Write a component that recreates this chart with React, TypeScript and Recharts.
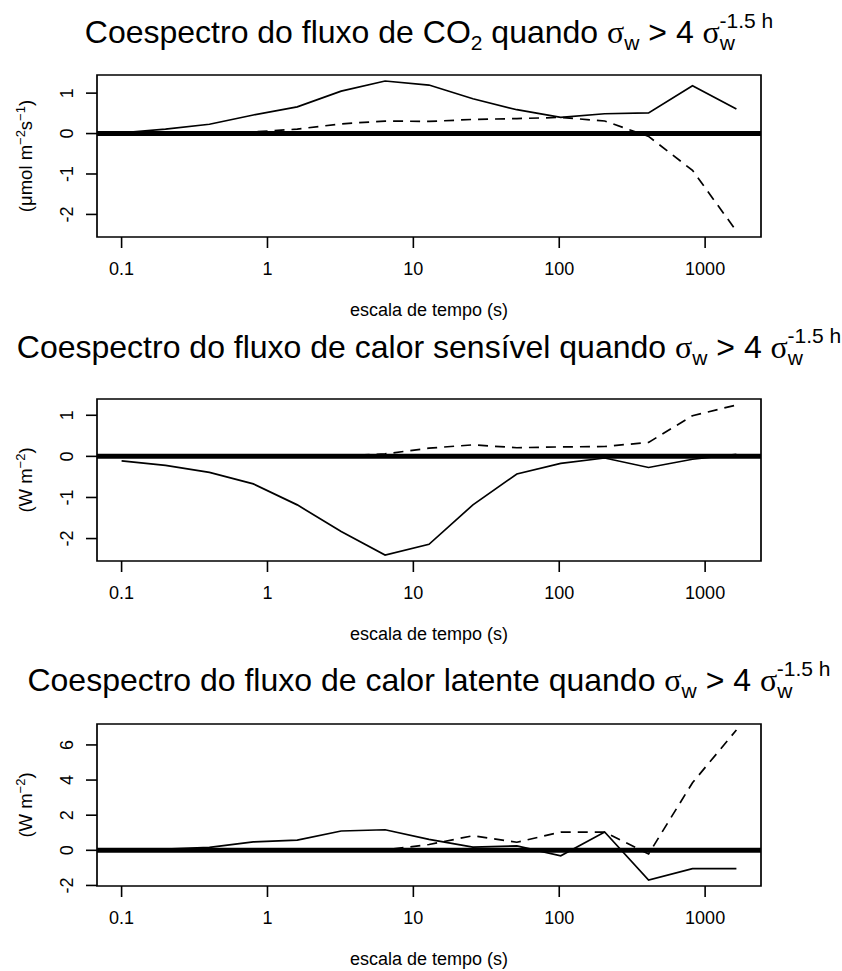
import React from 'react';
import { LineChart, Line, XAxis, YAxis, ReferenceLine, ReferenceArea, Label } from 'recharts';

// time scales (s)
const TIME = [0.1, 0.2, 0.4, 0.8, 1.6, 3.2, 6.4, 12.8, 25.6, 51.2, 102.4, 204.8, 409.6, 819.2, 1638.4];
const X_TICKS = [0.1, 1, 10, 100, 1000];

// CO2 flux cospectrum
const CO2_SOLID = [0.02, 0.11, 0.23, 0.46, 0.66, 1.05, 1.30, 1.20, 0.86, 0.59, 0.40, 0.49, 0.51, 1.18, 0.61];
const CO2_DASHED = [0.0, 0.01, 0.02, 0.04, 0.11, 0.24, 0.31, 0.30, 0.35, 0.37, 0.40, 0.31, -0.07, -0.91, -2.41];
const CO2_Y_TICKS = [-2, -1, 0, 1];

// sensible heat flux cospectrum
const SENS_SOLID = [-0.11, -0.22, -0.39, -0.67, -1.18, -1.83, -2.40, -2.14, -1.18, -0.43, -0.17, -0.04, -0.27, -0.07, 0.05];
const SENS_DASHED = [0.0, 0.0, 0.0, 0.0, 0.01, 0.01, 0.06, 0.20, 0.28, 0.21, 0.23, 0.24, 0.34, 0.99, 1.25];
const SENS_Y_TICKS = [-2, -1, 0, 1];

// latent heat flux cospectrum
const LAT_SOLID = [0.05, 0.07, 0.17, 0.48, 0.58, 1.10, 1.17, 0.62, 0.18, 0.25, -0.31, 1.04, -1.69, -1.04, -1.04];
const LAT_DASHED = [0.0, 0.0, 0.0, 0.0, 0.0, 0.0, 0.02, 0.33, 0.83, 0.46, 1.04, 1.04, -0.21, 3.85, 6.85];
const LAT_Y_TICKS = [-2, 0, 2, 4, 6];

const FONT = '"Liberation Sans", Arial, Helvetica, sans-serif';
const SERIF = '"Liberation Serif", "Times New Roman", serif';

const W = 842;
const H = 323;
const BOX_TOP = 75;
const BOX_BOTTOM = 237;
const CENTER_X = 429;
const AX_FONT = 18;

function logExtend(vals: number[]) {
  const lo = Math.log10(Math.min(...vals));
  const hi = Math.log10(Math.max(...vals));
  const e = (hi - lo) * 0.04;
  return [Math.pow(10, lo - e), Math.pow(10, hi + e)];
}
function linExtend(a: number[], b: number[]) {
  const all = a.concat(b);
  const lo = Math.min(...all);
  const hi = Math.max(...all);
  const e = (hi - lo) * 0.04;
  return [lo - e, hi + e];
}

const X_DOMAIN = logExtend(TIME);

const fmtX = (v: number) => (v < 1 ? String(v) : String(Math.round(v)));

const XTick = (props: any) => {
  const { x, payload } = props;
  return (
    <text x={x} y={BOX_BOTTOM + 38} textAnchor="middle" fontFamily={FONT} fontSize={AX_FONT} fill="#000">
      {fmtX(payload.value)}
    </text>
  );
};

const YTick = (props: any) => {
  const { y, payload } = props;
  const bx = 73;
  return (
    <text x={bx} y={y} textAnchor="middle" fontFamily={FONT} fontSize={AX_FONT} fill="#000" transform={`rotate(-90, ${bx}, ${y})`}>
      {String(payload.value)}
    </text>
  );
};

type PanelProps = {
  top: number;
  solid: number[];
  dashed: number[];
  yTicks: number[];
  yLabel: 'co2' | 'w';
};

const YLabel = ({ kind }: { kind: 'co2' | 'w' }) => {
  const cx = 32;
  const cy = (BOX_TOP + BOX_BOTTOM) / 2;
  return (
    <text x={cx} y={cy} textAnchor="middle" fontFamily={FONT} fontSize={18.5} fill="#000" transform={`rotate(-90, ${cx}, ${cy})`} style={{ whiteSpace: 'pre' }}>
      {kind === 'co2' ? (
        <>
          <tspan>(μmol m</tspan>
          <tspan fontSize={13} dy={-7}>−2</tspan>
          <tspan dy={7}>s</tspan>
          <tspan fontSize={13} dy={-7}>−1</tspan>
          <tspan dy={7}>)</tspan>
        </>
      ) : (
        <>
          <tspan>(W m</tspan>
          <tspan fontSize={13} dy={-7}>−2</tspan>
          <tspan dy={7}>)</tspan>
        </>
      )}
    </text>
  );
};

const Panel = ({ top, solid, dashed, yTicks, yLabel }: PanelProps) => {
  const data = TIME.map((t, i) => ({ t, a: solid[i], b: dashed[i] }));
  const yDomain = linExtend(solid, dashed);
  return (
    <div style={{ position: 'absolute', left: 0, top }}>
      <LineChart width={W} height={H} data={data} margin={{ top: BOX_TOP, right: 81, bottom: 26, left: 0 }}>
        <XAxis
          dataKey="t"
          type="number"
          scale="log"
          domain={X_DOMAIN}
          allowDataOverflow
          ticks={X_TICKS}
          interval={0}
          height={60}
          axisLine={false}
          tickSize={11}
          tickLine={{ stroke: '#000', strokeWidth: 1.6 }}
          tick={(p: any) => <XTick {...p} />}
        >
          <Label
            content={() => (
              <text x={CENTER_X} y={BOX_BOTTOM + 79} textAnchor="middle" fontFamily={FONT} fontSize={AX_FONT} fill="#000">
                escala de tempo (s)
              </text>
            )}
          />
        </XAxis>
        <YAxis
          type="number"
          domain={yDomain}
          allowDataOverflow
          ticks={yTicks}
          interval={0}
          width={97}
          axisLine={false}
          tickSize={11}
          tickLine={{ stroke: '#000', strokeWidth: 1.6 }}
          tick={(p: any) => <YTick {...p} />}
        >
          <Label content={() => <YLabel kind={yLabel} />} />
        </YAxis>
        <Line dataKey="a" type="linear" stroke="#000" strokeWidth={1.7} dot={false} isAnimationActive={false} />
        <Line dataKey="b" type="linear" stroke="#000" strokeWidth={1.7} strokeDasharray="10 7" dot={false} isAnimationActive={false} />
        <ReferenceLine y={0} stroke="#000" strokeWidth={5} />
        <ReferenceArea x1={X_DOMAIN[0]} x2={X_DOMAIN[1]} y1={yDomain[0]} y2={yDomain[1]} fill="none" fillOpacity={0} stroke="#000" strokeWidth={1.7} />
      </LineChart>
    </div>
  );
};

const Title = ({ y, prefix, co2 }: { y: number; prefix: string; co2?: boolean }) => (
  <text x={CENTER_X} y={y} textAnchor="middle" fontFamily={FONT} fontSize={32} fill="#000" style={{ whiteSpace: 'pre' }}>
    <tspan>{prefix}</tspan>
    {co2 ? (
      <>
        <tspan fontSize={21} dy={7}>2</tspan>
        <tspan dy={-7}> quando </tspan>
      </>
    ) : (
      <tspan> quando </tspan>
    )}
    <tspan fontFamily={SERIF}>σ</tspan>
    <tspan fontSize={21} dy={7}>w</tspan>
    <tspan dy={-7}> &gt; 4 </tspan>
    <tspan fontFamily={SERIF}>σ</tspan>
    <tspan fontSize={21} dy={7}>w</tspan>
    <tspan fontSize={21} dx={-15.5} dy={-22.5}>-1.5 h</tspan>
  </text>
);

export default function App() {
  return (
    <div style={{ position: 'absolute', left: 0, top: 0, width: W, height: 971, background: '#fff' }}>
      <Panel top={0} solid={CO2_SOLID} dashed={CO2_DASHED} yTicks={CO2_Y_TICKS} yLabel="co2" />
      <Panel top={324} solid={SENS_SOLID} dashed={SENS_DASHED} yTicks={SENS_Y_TICKS} yLabel="w" />
      <Panel top={649} solid={LAT_SOLID} dashed={LAT_DASHED} yTicks={LAT_Y_TICKS} yLabel="w" />
      <svg width={W} height={971} style={{ position: 'absolute', left: 0, top: 0, pointerEvents: 'none' }}>
        <Title y={43} prefix="Coespectro do fluxo de CO" co2 />
        <Title y={358} prefix="Coespectro do fluxo de calor sensível" />
        <Title y={691} prefix="Coespectro do fluxo de calor latente" />
      </svg>
    </div>
  );
}
